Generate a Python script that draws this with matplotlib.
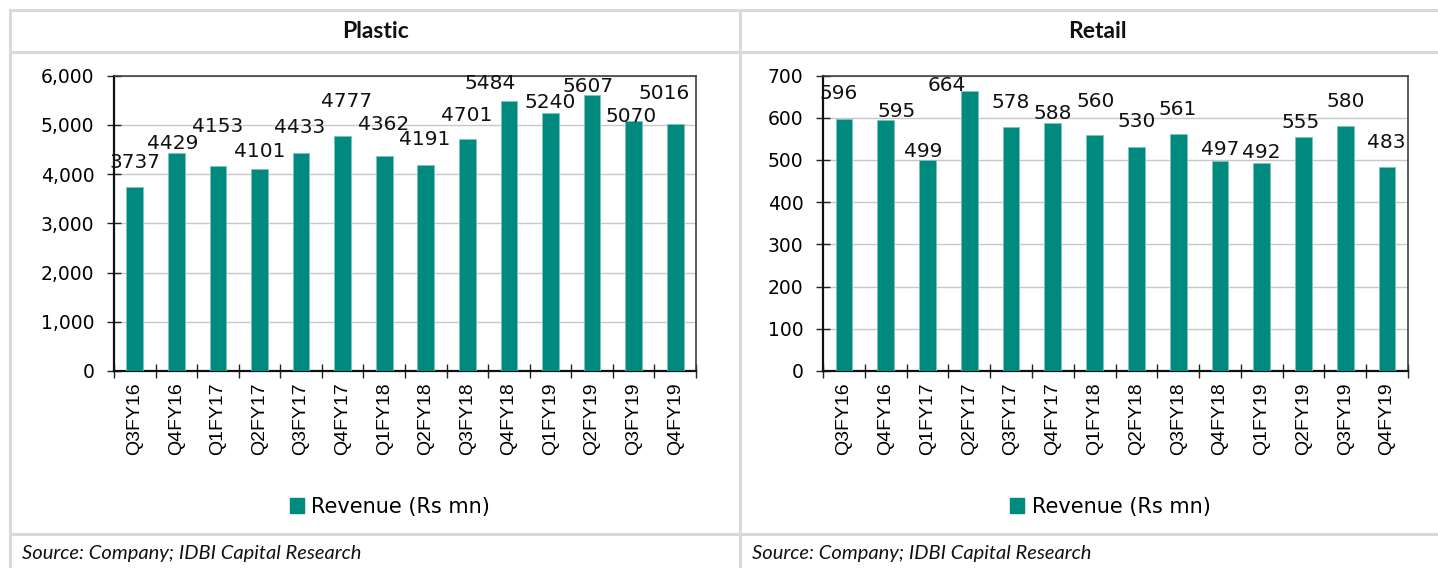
import matplotlib
matplotlib.use("Agg")
import matplotlib.pyplot as plt
from matplotlib.lines import Line2D
from matplotlib.patches import Patch
from matplotlib.ticker import FuncFormatter, FixedLocator
import numpy as np

# ---------------- data ----------------
quarters = ["Q3FY16", "Q4FY16", "Q1FY17", "Q2FY17", "Q3FY17", "Q4FY17", "Q1FY18",
            "Q2FY18", "Q3FY18", "Q4FY18", "Q1FY19", "Q2FY19", "Q3FY19", "Q4FY19"]
plastic_revenue = [3737, 4429, 4153, 4101, 4433, 4777, 4362, 4191, 4701, 5484, 5240, 5607, 5070, 5016]
retail_revenue = [596, 595, 499, 664, 578, 588, 560, 530, 561, 497, 492, 555, 580, 483]
series_name = "Revenue (Rs mn)"
source_text = "Source: Company; IDBI Capital Research"

# ---------------- style ----------------
W, H = 1438, 568
BAR = "#00897f"
BORDER = "#d9d9d9"
GRID = "#c8c8c8"

# label placement offsets (pixels) mimicking the original label layout
plastic_offsets = [(0, 24), (-4, 9), (0, 40), (0, 18), (-1, 25), (4, 34), (-1, 32),
                   (-1, 25), (-1, 24), (-19, 17), (0, 10), (-4, 8), (-3, 5), (-11, 30)]
retail_offsets = [(-5, 26), (11, 8), (-4, 9), (-22, 5), (0, 25), (0, 9), (1, 33),
                  (0, 26), (0, 25), (0, 12), (0, 11), (-3, 14), (0, 25), (-1, 25)]

fig = plt.figure(figsize=(W / 100, H / 100), dpi=100)
fig.patch.set_facecolor("white")


def fx(px):
    return px / W


def fy(py):
    return 1 - py / H


# table borders
for (x0, y0, x1, y1) in [(10, 10, W, 10), (10, 52, W, 52), (10, 534, W, 534),
                         (10, 10, 10, H), (740, 10, 740, H)]:
    fig.add_artist(Line2D([fx(x0), fx(x1)], [fy(y0), fy(y1)], color=BORDER, lw=2.2,
                          transform=fig.transFigure))


def make_panel(left, right, top, bottom, values, ymax, ystep, offsets, title, title_x,
               legend_x, source_x, fmt):
    ax = fig.add_axes([fx(left), fy(bottom), fx(right - left), (bottom - top) / H])
    x = np.arange(len(values))
    ax.bar(x, values, width=0.4, color=BAR, edgecolor="#7cc3bd", linewidth=0.6, zorder=3)
    ax.set_xlim(-0.5, len(values) - 0.5)
    ax.set_ylim(0, ymax)
    ax.set_yticks(np.arange(0, ymax + 1, ystep))
    ax.yaxis.set_major_formatter(FuncFormatter(fmt))
    ax.grid(axis="y", color=GRID, lw=1, zorder=0)
    ax.set_axisbelow(True)
    # x ticks at boundaries, labels at centres
    ax.xaxis.set_major_locator(FixedLocator(np.arange(-0.5, len(values), 1.0)))
    ax.xaxis.set_major_formatter(FuncFormatter(lambda v, p: ""))
    ax.xaxis.set_minor_locator(FixedLocator(x))
    ax.set_xticklabels(quarters, minor=True, rotation=90, fontfamily="Liberation Sans",
                       fontsize=14, va="top", ha="center")
    ax.tick_params(axis="x", which="major", direction="inout", length=10, width=1, color="#222222")
    ax.tick_params(axis="x", which="minor", length=0, pad=8)
    ax.tick_params(axis="y", direction="inout", length=10, width=1, color="#222222", pad=9,
                   labelsize=13.5)
    for lab in ax.get_yticklabels():
        lab.set_fontfamily("DejaVu Sans")
    for s in ["left", "bottom"]:
        ax.spines[s].set_color("#111111")
        ax.spines[s].set_linewidth(1.6)
    for s in ["top", "right"]:
        ax.spines[s].set_color("#404040")
        ax.spines[s].set_linewidth(1.2)
    for i, v in enumerate(values):
        dx, dy = offsets[i]
        ax.annotate(str(v), xy=(i, v), xytext=(dx, dy), textcoords="offset pixels",
                    ha="center", va="center", fontsize=14.5, fontfamily="DejaVu Sans",
                    color="#111111", zorder=5, annotation_clip=False)
    fig.text(fx(title_x), fy(31), title, ha="center", va="center", fontsize=16.5,
             fontweight="bold", fontfamily="Lato", color="#111111")
    ax.legend(handles=[Patch(facecolor=BAR, edgecolor=BAR)], labels=[series_name],
              loc="center", bbox_to_anchor=(fx(legend_x), fy(507)),
              bbox_transform=fig.transFigure, frameon=False,
              prop={"family": "DejaVu Sans", "size": 15},
              handlelength=0.7, handleheight=0.7, handletextpad=0.35)
    fig.text(fx(source_x), fy(553), source_text, ha="left", va="center", fontsize=14.5,
             fontstyle="italic", fontfamily="Lato", color="#111111")
    return ax


make_panel(114, 696, 75.5, 371, plastic_revenue, 6000, 1000, plastic_offsets, "Plastic",
           375, 390, 22, lambda v, p: f"{int(v):,}")
make_panel(823, 1408, 75.5, 371, retail_revenue, 700, 100, retail_offsets, "Retail",
           1097, 1110, 752, lambda v, p: f"{int(v)}")

fig.savefig("out.png", dpi=100, facecolor="white")
